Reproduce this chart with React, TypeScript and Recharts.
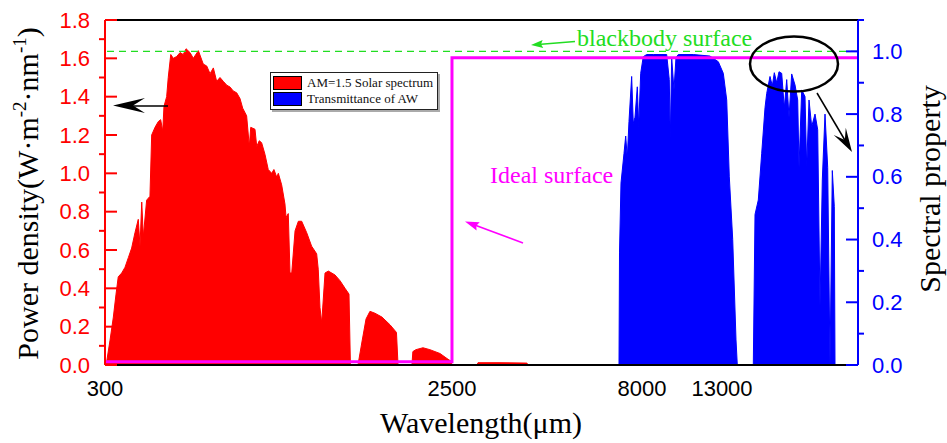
import React from 'react';
import { ComposedChart, Area, Line, XAxis, YAxis, ReferenceLine, Legend } from 'recharts';

// AM1.5 solar spectrum: [wavelength, power density W·m-2·nm-1]
const solarSpectrum: [number, number][] = [
  [300, 0], [311, 0.02], [332, 0.13], [353, 0.25], [370, 0.37], [384, 0.46], [406, 0.48],
  [427, 0.51], [448, 0.56], [469, 0.61], [490, 0.69], [511, 0.76], [522, 0.62], [533, 0.85],
  [543, 0.67], [564, 0.86], [585, 0.88], [596, 1.2], [617, 1.24], [638, 1.27], [653, 1.28],
  [666, 1.22], [674, 1.35], [691, 1.4], [701, 1.5], [717, 1.62], [733, 1.6], [755, 1.61],
  [776, 1.63], [796, 1.62], [814, 1.65], [839, 1.63], [860, 1.6], [892, 1.64], [923, 1.57],
  [945, 1.56], [966, 1.52], [987, 1.55], [1008, 1.48], [1029, 1.5], [1050, 1.48], [1072, 1.46],
  [1093, 1.45], [1113, 1.43], [1135, 1.42], [1156, 1.39], [1173, 1.34], [1198, 1.3],
  [1215, 1.14], [1224, 1.24], [1251, 1.23], [1262, 1.14], [1278, 1.17], [1293, 1.16],
  [1314, 1.1], [1335, 1.02], [1357, 1.0], [1371, 1.02], [1389, 0.98], [1399, 1.0], [1420, 0.94],
  [1441, 0.84], [1448, 0.77], [1462, 0.79], [1473, 0.48], [1484, 0.48], [1505, 0.7],
  [1526, 0.75], [1547, 0.75], [1579, 0.69], [1610, 0.62], [1642, 0.58], [1652, 0.5],
  [1663, 0.3], [1674, 0.22], [1695, 0.48], [1716, 0.49], [1758, 0.47], [1790, 0.44],
  [1822, 0.4], [1847, 0.37], [1856, 0], [1902, 0], [1904, 0], [1929, 0.12], [1955, 0.24],
  [1980, 0.28], [2012, 0.27], [2056, 0.25], [2107, 0.21], [2148, 0.17], [2158, 0], [2246, 0],
  [2252, 0.07], [2271, 0.08], [2316, 0.09], [2360, 0.08], [2424, 0.06], [2475, 0.03],
  [2494, 0.02], [2500, 0], [3224, 0], [3253, 0.012], [3890, 0.012], [4670, 0.01], [4700, 0],
];

// transmittance of the atmospheric window: [wavelength, 0..1]
const awTransmittance: [number, number][] = [
  [7300, 0], [7335, 0], [7350, 0.36], [7393, 0.58], [7480, 0.675], [7529, 0.73], [7575, 0.66],
  [7624, 0.776], [7702, 0.92], [7749, 0.77], [7798, 0.79], [7865, 0.887], [7906, 0.76],
  [7963, 0.93], [8081, 0.983], [8294, 0.99], [8706, 0.99], [9125, 0.99], [9544, 0.99],
  [9706, 0.91], [9769, 0.72], [9856, 0.98], [10000, 0.877], [10125, 0.98], [10269, 0.99],
  [11206, 0.99], [12250, 0.985], [12769, 0.967], [13081, 0.93], [13294, 0.845], [13456, 0.6],
  [13669, 0.4], [13875, 0.08], [13956, 0], [14956, 0], [15063, 0.48], [15269, 0.526],
  [15481, 0.675], [15688, 0.82], [15794, 0.866], [16000, 0.92], [16144, 0.89], [16269, 0.932],
  [16419, 0.9], [16563, 0.935], [16731, 0.93], [16894, 0.82], [17044, 0.91], [17188, 0.79],
  [17356, 0.928], [17563, 0.893], [17731, 0.845], [17813, 0.63], [17981, 0.877], [18188, 0.856],
  [18294, 0.63], [18438, 0.845], [18606, 0.76], [18813, 0.8], [18981, 0.75], [19125, 0.186],
  [19269, 0.59], [19438, 0.8], [19606, 0.63], [19750, 0], [19894, 0.62], [20019, 0.505],
  [20063, 0],
];

// ideal surface: low absorption in solar band, high emission beyond 2.5 µm
const idealSurface: [number, number][] = [[300, 0.01], [2500, 0.01], [2500, 0.98], [21500, 0.98]];

const blackbodyLevel = 1.0;

const xTickWavelengths = [300, 2500, 8000, 13000];
const leftTicks = [0, 0.1, 0.2, 0.3, 0.4, 0.5, 0.6, 0.7, 0.8, 0.9, 1.0, 1.1, 1.2, 1.3, 1.4, 1.5, 1.6, 1.7, 1.8];
const rightTicks = [0, 0.1, 0.2, 0.3, 0.4, 0.5, 0.6, 0.7, 0.8, 0.9, 1.0, 1.1];

// broken wavelength axis: each segment gets its own share of the width
const axisBreaks = [300, 2500, 8000, 13000, 21500];
const axisShare = [0, 46.08, 71.31, 81.94, 100];

function toPos(wl: number) {
  for (let i = 1; i < axisBreaks.length; i++) {
    if (wl <= axisBreaks[i]) {
      const t = (wl - axisBreaks[i - 1]) / (axisBreaks[i] - axisBreaks[i - 1]);
      return axisShare[i - 1] + t * (axisShare[i] - axisShare[i - 1]);
    }
  }
  return 100;
}

const solarData = solarSpectrum.map(([wl, v]) => ({ pos: toPos(wl), power: v }));
const awData = awTransmittance.map(([wl, v]) => ({ pos: toPos(wl), trans: v }));
const idealData = idealSurface.map(([wl, v]) => ({ pos: toPos(wl), ideal: v }));
const xTicks = xTickWavelengths.map(toPos);

const SANS = 'Liberation Sans, Arial, sans-serif';
const SERIF = 'Liberation Serif, Times New Roman, serif';
const GREEN = '#22dd22';
const MAGENTA = '#ff00ff';

const LeftTick = (props: any) => {
  const { x, y, payload, index } = props;
  const major = index % 2 === 0;
  return (
    <g>
      {major ? (
        <line x1={x} x2={x + 12} y1={y} y2={y} stroke="#ff0000" strokeWidth={2} />
      ) : (
        <line x1={x - 6} x2={x} y1={y} y2={y} stroke="#ff0000" strokeWidth={2} />
      )}
      {major && (
        <text x={x - 15} y={y} textAnchor="end" dominantBaseline="central" fill="#ff0000" fontSize={22} fontFamily={SANS}>
          {payload.value.toFixed(1)}
        </text>
      )}
    </g>
  );
};

const RightTick = (props: any) => {
  const { x, y, payload, index } = props;
  const major = index % 2 === 0;
  return (
    <g>
      {major ? (
        <line x1={x - 12} x2={x} y1={y} y2={y} stroke="#0000ff" strokeWidth={2} />
      ) : (
        <line x1={x} x2={x + 6} y1={y} y2={y} stroke="#0000ff" strokeWidth={2} />
      )}
      {major && (
        <text x={x + 14} y={y} textAnchor="start" dominantBaseline="central" fill="#0000ff" fontSize={22} fontFamily={SANS}>
          {payload.value.toFixed(1)}
        </text>
      )}
    </g>
  );
};

const BottomTick = (props: any) => {
  const { x, y, index } = props;
  return (
    <text x={x} y={y + 31} textAnchor="middle" fill="#000" fontSize={22} fontFamily={SANS}>
      {xTickWavelengths[index]}
    </text>
  );
};

const renderLegend = (props: any) => {
  const items = (props.payload || []).filter((p: any) => p.type !== 'none');
  return (
    <div
      style={{
        border: '1px solid #222',
        background: '#fff',
        boxShadow: '2px 2px 0 #aaa',
        padding: '2px 2px 2px 2px',
        fontFamily: SERIF,
        fontSize: 13,
        color: '#111',
      }}
    >
      {items.map((e: any) => (
        <div key={e.value} style={{ display: 'flex', alignItems: 'center', height: 16 }}>
          <span
            style={{
              display: 'inline-block',
              width: 27,
              height: 12,
              background: e.color,
              border: '1px solid #000',
              marginRight: 5,
            }}
          />
          {e.value}
        </div>
      ))}
    </div>
  );
};

// barbed arrow head pointing at (tx, ty), coming from (fx, fy)
function arrowHead(tx: number, ty: number, fx: number, fy: number, len: number, half: number, notch: number) {
  const d = Math.hypot(tx - fx, ty - fy);
  const ux = (tx - fx) / d;
  const uy = (ty - fy) / d;
  const bx = tx - ux * len;
  const by = ty - uy * len;
  const nx = tx - ux * notch;
  const ny = ty - uy * notch;
  return `${tx},${ty} ${bx - uy * half},${by + ux * half} ${nx},${ny} ${bx + uy * half},${by - ux * half}`;
}

export default function App() {
  return (
    <div style={{ position: 'absolute', left: 0, top: 0, width: 947, height: 443, background: '#fff' }}>
      <ComposedChart width={947} height={443} margin={{ top: 20, right: 0, bottom: 0, left: 0 }}>
        <XAxis
          type="number"
          dataKey="pos"
          domain={[0, 100]}
          ticks={xTicks}
          interval={0}
          tick={<BottomTick />}
          tickLine={false}
          tickSize={0}
          tickMargin={0}
          height={78}
          stroke="#000"
          strokeWidth={2}
        />
        <YAxis
          yAxisId="left"
          orientation="left"
          domain={[0, 1.8]}
          ticks={leftTicks}
          interval={0}
          width={105}
          tick={<LeftTick />}
          tickLine={false}
          tickSize={0}
          tickMargin={0}
          stroke="#ff0000"
          strokeWidth={2}
        />
        <YAxis
          yAxisId="right"
          orientation="right"
          domain={[0, 1.1]}
          ticks={rightTicks}
          interval={0}
          width={89}
          tick={<RightTick />}
          tickLine={false}
          tickSize={0}
          tickMargin={0}
          stroke="#0000ff"
          strokeWidth={2}
        />
        <Area
          yAxisId="left"
          data={solarData}
          dataKey="power"
          name="AM=1.5 Solar spectrum"
          type="linear"
          fill="#ff0000"
          stroke="#ff0000"
          strokeWidth={1}
          fillOpacity={1}
          isAnimationActive={false}
        />
        <Area
          yAxisId="right"
          data={awData}
          dataKey="trans"
          name="Transmittance of AW"
          type="linear"
          fill="#0000ff"
          stroke="#0000ff"
          strokeWidth={1}
          fillOpacity={1}
          isAnimationActive={false}
        />
        <ReferenceLine yAxisId="right" y={blackbodyLevel} stroke={GREEN} strokeDasharray="7 5" strokeWidth={1.2} />
        <Line
          yAxisId="right"
          data={idealData}
          dataKey="ideal"
          name="Ideal surface"
          type="linear"
          stroke={MAGENTA}
          strokeWidth={3}
          dot={false}
          legendType="none"
          isAnimationActive={false}
        />
        <ReferenceLine yAxisId="left" y={1.8} stroke="#000" strokeWidth={2} />
        <Legend
          layout="vertical"
          verticalAlign="middle"
          align="center"
          content={renderLegend}
          wrapperStyle={{ left: 270, top: 72, width: 168 }}
        />
      </ComposedChart>
      <svg width={947} height={443} style={{ position: 'absolute', left: 0, top: 0, pointerEvents: 'none' }}>
        <text transform="translate(38,193.5) rotate(-90)" textAnchor="middle" fontSize={30} fontFamily={SERIF} fill="#000">
          Power density(W·m<tspan dy={-12} fontSize={19}>-2</tspan>
          <tspan dy={12}>·nm</tspan>
          <tspan dy={-12} fontSize={19}>-1</tspan>
          <tspan dy={12}>)</tspan>
        </text>
        <text transform="translate(940,189) rotate(-90)" textAnchor="middle" fontSize={30} fontFamily={SERIF} fill="#000">
          Spectral property
        </text>
        <text x={481} y={433} textAnchor="middle" fontSize={30} fontFamily={SERIF} fill="#000">
          Wavelength(μm)
        </text>

        <text x={577} y={46} fontSize={24} fontFamily={SERIF} fill={GREEN}>blackbody surface</text>
        <line x1={575} y1={41.5} x2={538} y2={44.5} stroke={GREEN} strokeWidth={1.5} />
        <polygon points={arrowHead(531, 45, 575, 41.5, 12, 4, 10)} fill={GREEN} />

        <text x={490} y={183} fontSize={24} fontFamily={SERIF} fill={MAGENTA}>Ideal surface</text>
        <line x1={523} y1={243} x2={472} y2={224} stroke={MAGENTA} strokeWidth={1.5} />
        <polygon points={arrowHead(465, 221.5, 523, 243, 14, 4.5, 12)} fill={MAGENTA} />

        <line x1={168} y1={106} x2={125} y2={106} stroke="#000" strokeWidth={1.5} />
        <polygon points={arrowHead(113, 105.5, 168, 105.5, 32, 7.5, 20)} fill="#000" />

        <ellipse cx={794} cy={64} rx={44} ry={27.5} fill="none" stroke="#000" strokeWidth={2.5} />
        <line x1={817} y1={93} x2={846} y2={142} stroke="#000" strokeWidth={1.5} />
        <polygon points={arrowHead(852, 152, 817, 93, 24, 7, 14)} fill="#000" />
      </svg>
    </div>
  );
}
